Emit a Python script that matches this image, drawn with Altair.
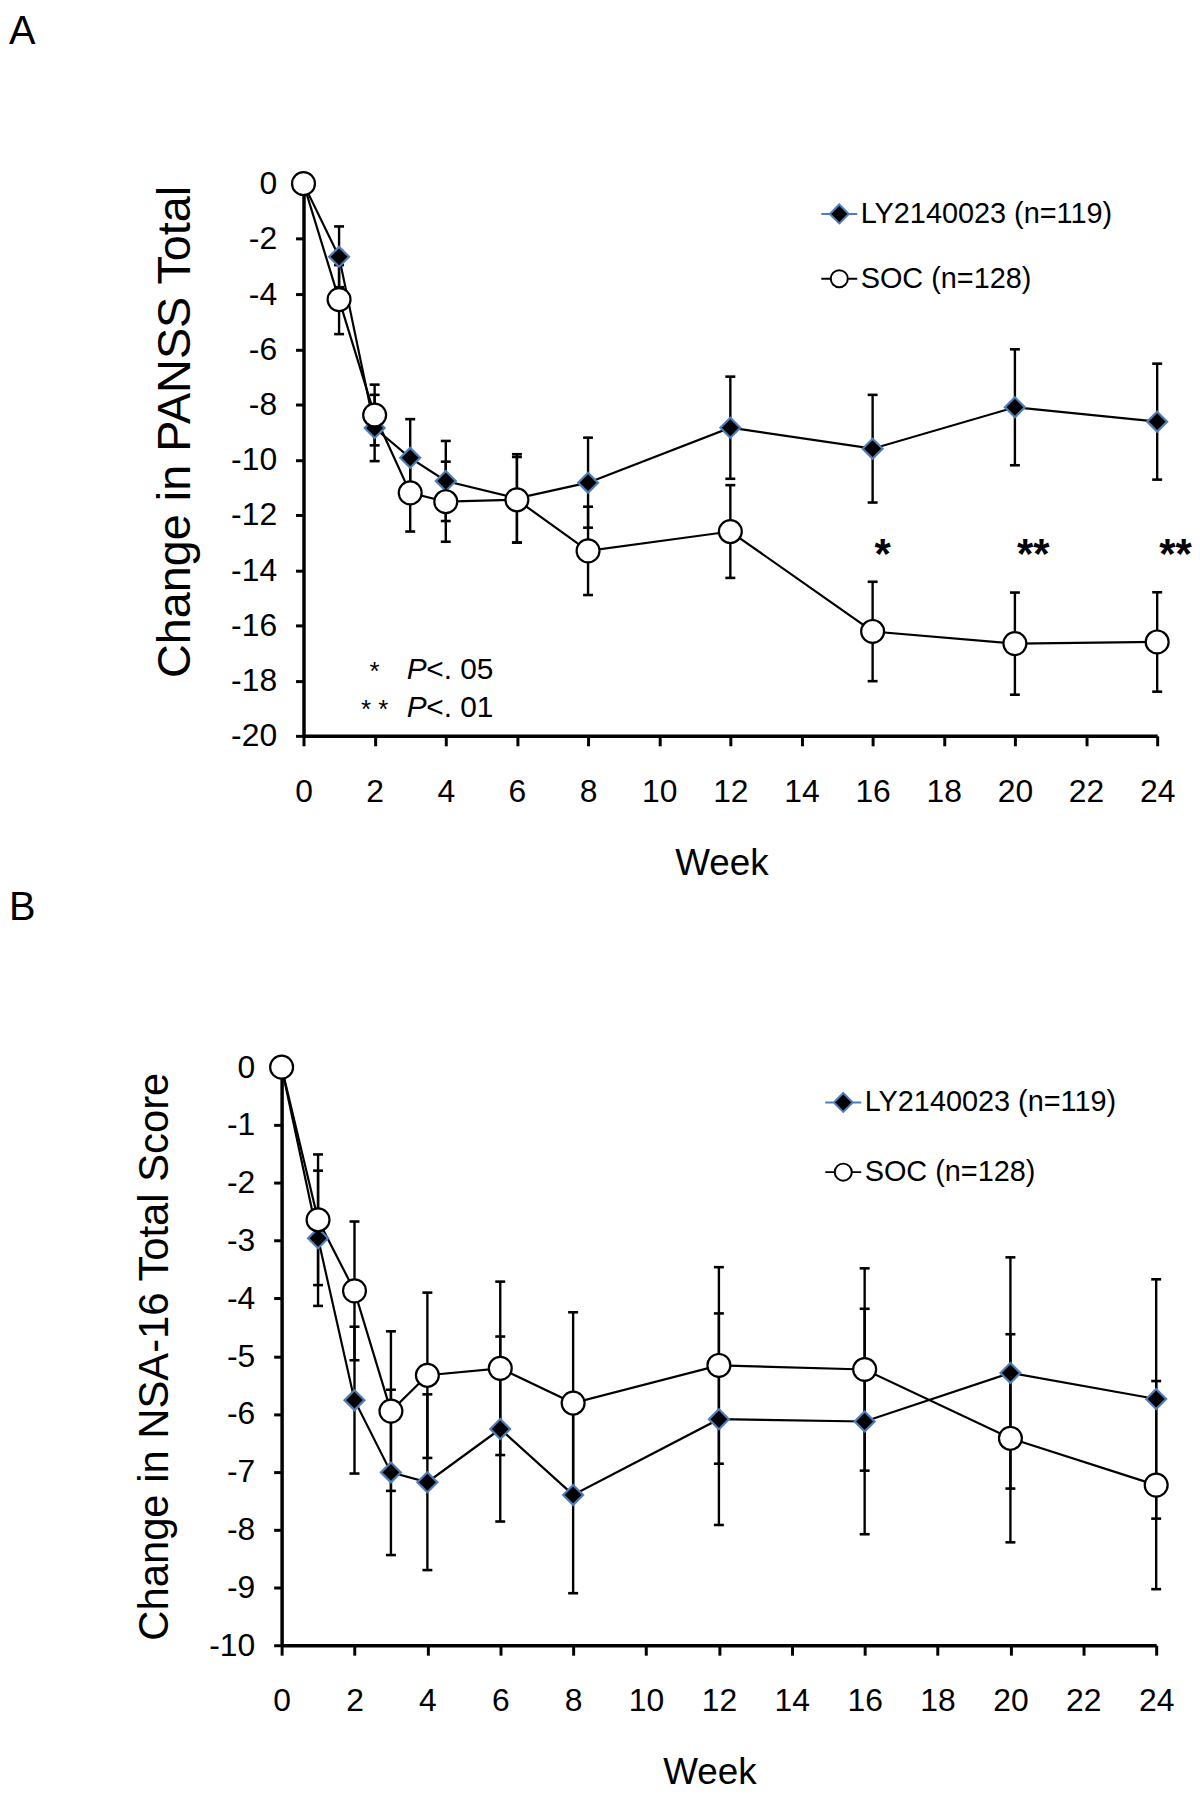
import altair as alt
import pandas as pd

# ---------------- data ----------------
weeks = [0, 1, 2, 3, 4, 6, 8, 12, 16, 20, 24]
series_names = ["LY2140023 (n=119)", "SOC (n=128)"]

# Panel A: change in PANSS total (mean, SE)
a_ly_mean = [0, -2.65, -8.85, -9.93, -10.77, -11.4, -10.83, -8.84, -9.6, -8.1, -8.62]
a_ly_se = [0, 1.1, 1.2, 1.4, 1.45, 1.6, 1.63, 1.85, 1.95, 2.1, 2.1]
a_soc_mean = [0, -4.2, -8.38, -11.2, -11.52, -11.45, -13.3, -12.6, -16.22, -16.66, -16.6]
a_soc_se = [0, 1.25, 1.1, 1.4, 1.45, 1.55, 1.6, 1.68, 1.8, 1.85, 1.8]

# Panel B: change in NSA-16 total score (mean, SE)
b_ly_mean = [0, -2.96, -5.76, -7.01, -7.18, -6.26, -7.4, -6.09, -6.13, -5.29, -5.74]
b_ly_se = [0, 1.17, 1.27, 1.43, 1.52, 1.6, 1.7, 1.83, 1.95, 2.0, 2.07]
b_soc_mean = [0, -2.64, -3.87, -5.95, -5.33, -5.21, -5.81, -5.16, -5.23, -6.42, -7.23]
b_soc_se = [0, 1.13, 1.2, 1.38, 1.43, 1.5, 1.57, 1.7, 1.75, 1.8, 1.8]

# significance marks (panel A)
star_weeks = [16, 20, 24]
star_text = ["*", "**", "**"]
star_y = [-13.1, -13.1, -13.1]

# footnote (panel A)
note_star = ["*", "* *"]
note_p = ["P", "P"]
note_rest = ["<. 05", "<. 01"]
note_x_star = [2.0, 2.0]
note_x_p = [2.9, 2.9]
note_x_rest = [3.45, 3.45]
note_y = [-17.6, -19.0]

x_ticks = list(range(0, 25, 2))
a_y_ticks = list(range(-20, 1, 2))
b_y_ticks = list(range(-10, 1, 1))

SANS = "Liberation Sans, Arial, sans-serif"
DIAMOND_EDGE = "#4F7DB8"

LY_LEG = "M-1.9,0L-1,0M1,0L1.9,0M0,-1L1,0L0,1L-1,0Z"
SOC_LEG = "M-1.9,0L-0.9,0M0.9,0L1.9,0M0.9,0A0.9,0.9,0,1,1,-0.9,0A0.9,0.9,0,1,1,0.9,0Z"


def make_df(ly_m, ly_s, soc_m, soc_s):
    rows = []
    for name, m, s in [(series_names[0], ly_m, ly_s), (series_names[1], soc_m, soc_s)]:
        for w, mv, sv in zip(weeks, m, s):
            rows.append({"week": w, "mean": mv, "se": sv, "lo": mv - sv, "hi": mv + sv, "series": name})
    return pd.DataFrame(rows)


def panel(df, ydom, yticks, ytitle, ytitle_size, ytitle_pad, ytitle_y, xshift, plot_w, xtitle_x,
          letter, letter_y, legend_x, legend_y, legend_row_pad):
    # both panels share the same group origin; panel A's axes are shifted right by xshift
    xscale = alt.Scale(domain=[0, 24], nice=False, zero=False, range=[xshift, xshift + plot_w])
    yscale = alt.Scale(domain=ydom, nice=False, zero=False)
    xaxis = alt.Axis(values=x_ticks, title="Week", labelExpr="'' + datum.value", grid=False,
                     labelFont=SANS, labelFontSize=32, labelColor="black",
                     labelFlush=False, labelOverlap=False,
                     titleFont=SANS, titleFontSize=37, titleFontWeight="normal",
                     titleColor="black", domainColor="black", domainWidth=3.5,
                     tickColor="black", tickWidth=3, tickSize=10,
                     labelPadding=31, titlePadding=38, titleX=xtitle_x)
    yargs = dict(values=yticks, title=ytitle, labelExpr="'' + datum.value", grid=False,
                 labelFont=SANS, labelFontSize=32, labelColor="black",
                 labelFlush=False, labelOverlap=False,
                 titleFont=SANS, titleFontSize=ytitle_size, titleFontWeight="normal",
                 titleColor="black", domainColor="black", domainWidth=3.5,
                 tickColor="black", tickWidth=3, tickSize=8,
                 labelPadding=19, titlePadding=ytitle_pad)
    if ytitle_y is not None:
        yargs["titleY"] = ytitle_y
    if xshift:
        yargs["offset"] = -xshift
    yaxis = alt.Axis(**yargs)
    X = alt.X("week:Q", scale=xscale, axis=xaxis)

    base = alt.Chart(df)
    lines = base.mark_line(color="black", strokeWidth=2.2).encode(
        x=X, y=alt.Y("mean:Q", scale=yscale, axis=yaxis), detail="series:N")
    bars = base.transform_filter("datum.se > 0").mark_rule(color="black", strokeWidth=2.4).encode(
        x=X, y=alt.Y("lo:Q", scale=yscale, axis=yaxis), y2="hi:Q")
    cap_lo = base.transform_filter("datum.se > 0").mark_tick(
        orient="horizontal", color="black", size=10, thickness=2.6, opacity=1).encode(
        x=X, y=alt.Y("lo:Q", scale=yscale, axis=yaxis))
    cap_hi = base.transform_filter("datum.se > 0").mark_tick(
        orient="horizontal", color="black", size=10, thickness=2.6, opacity=1).encode(
        x=X, y=alt.Y("hi:Q", scale=yscale, axis=yaxis))
    ly_pts = base.transform_filter(alt.datum.series == series_names[0]).mark_point(
        shape="diamond", filled=True, fill="black", stroke=DIAMOND_EDGE, strokeWidth=2.2,
        size=400, opacity=1).encode(x=X, y=alt.Y("mean:Q", scale=yscale, axis=yaxis))
    soc_pts = base.transform_filter(alt.datum.series == series_names[1]).mark_point(
        shape="circle", filled=True, fill="white", stroke="black", strokeWidth=2.2,
        size=530, opacity=1).encode(x=X, y=alt.Y("mean:Q", scale=yscale, axis=yaxis))

    leg = alt.Legend(title=None, orient="none", legendX=legend_x, legendY=legend_y,
                     labelFont=SANS, labelFontSize=29, labelColor="black",
                     symbolSize=361, symbolStrokeWidth=2, labelOffset=7,
                     rowPadding=legend_row_pad, padding=0, labelLimit=0)
    legend_layer = base.transform_filter("false").mark_point(
        filled=True, opacity=1, strokeWidth=2).encode(
        x=X, y=alt.Y("mean:Q", scale=yscale, axis=yaxis),
        shape=alt.Shape("series:N", scale=alt.Scale(domain=series_names, range=[LY_LEG, SOC_LEG]), legend=leg),
        fill=alt.Fill("series:N", scale=alt.Scale(domain=series_names, range=["black", "white"]), legend=leg),
        stroke=alt.Stroke("series:N", scale=alt.Scale(domain=series_names, range=[DIAMOND_EDGE, "black"]), legend=leg),
    )

    letter_layer = alt.Chart(pd.DataFrame({"t": [letter]})).mark_text(
        font=SANS, fontSize=40, color="black", align="center", baseline="top").encode(
        text="t:N", x=alt.value(-260.7), y=alt.value(letter_y))

    layers = [lines, bars, cap_lo, cap_hi, ly_pts, soc_pts, legend_layer, letter_layer]
    return layers, X, xscale, xaxis, yscale, yaxis


# ---------------- panel A ----------------
df_a = make_df(a_ly_mean, a_ly_se, a_soc_mean, a_soc_se)
layers_a, XA, xs_a, xa_axis, ys_a, ya_axis = panel(
    df_a, [-20, 0], a_y_ticks, "Change in PANSS Total", 47, 31, 249, 22, 858, 442,
    "A", -172, 546, 16, 35)

stars_df = pd.DataFrame({"week": star_weeks, "t": star_text, "y": star_y})
stars = alt.Chart(stars_df).mark_text(font=SANS, fontSize=42, fontWeight="bold", color="black",
                                      align="left", baseline="middle", dx=2, dy=10).encode(
    x=XA, y=alt.Y("y:Q", scale=ys_a, axis=ya_axis), text="t:N")

note_df = pd.DataFrame({"xs": note_x_star, "xp": note_x_p, "xr": note_x_rest, "y": note_y,
                        "s": note_star, "p": note_p, "r": note_rest})
note_s = alt.Chart(note_df).mark_text(font=SANS, fontSize=26, color="black", align="center",
                                      baseline="middle", dy=2).encode(
    x=alt.X("xs:Q", scale=xs_a, axis=xa_axis), y=alt.Y("y:Q", scale=ys_a, axis=ya_axis), text="s:N")
note_p_l = alt.Chart(note_df).mark_text(font=SANS, fontSize=30, fontStyle="italic", color="black",
                                        align="left", baseline="middle").encode(
    x=alt.X("xp:Q", scale=xs_a, axis=xa_axis), y=alt.Y("y:Q", scale=ys_a, axis=ya_axis), text="p:N")
note_r_l = alt.Chart(note_df).mark_text(font=SANS, fontSize=30, color="black",
                                        align="left", baseline="middle").encode(
    x=alt.X("xr:Q", scale=xs_a, axis=xa_axis), y=alt.Y("y:Q", scale=ys_a, axis=ya_axis), text="r:N")

chart_a = alt.layer(*layers_a, stars, note_s, note_p_l, note_r_l).properties(width=880, height=555)

# ---------------- panel B ----------------
df_b = make_df(b_ly_mean, b_ly_se, b_soc_mean, b_soc_se)
layers_b, XB, xs_b, xb_axis, ys_b, yb_axis = panel(
    df_b, [-10, 0], b_y_ticks, "Change in NSA-16 Total Score", 42, 32, None, 0, 879, 430,
    "B", -180.3, 550, 21, 40)
chart_b = alt.layer(*layers_b).properties(width=879, height=581)

chart = alt.vconcat(chart_a, chart_b, spacing=6).resolve_scale(
    shape="independent", fill="independent", stroke="independent"
).resolve_legend(shape="independent", fill="independent", stroke="independent").properties(
    padding=0, background="white"
).configure_view(stroke=None)

chart.save("out.html", embed_options={"renderer": "svg", "actions": False})
